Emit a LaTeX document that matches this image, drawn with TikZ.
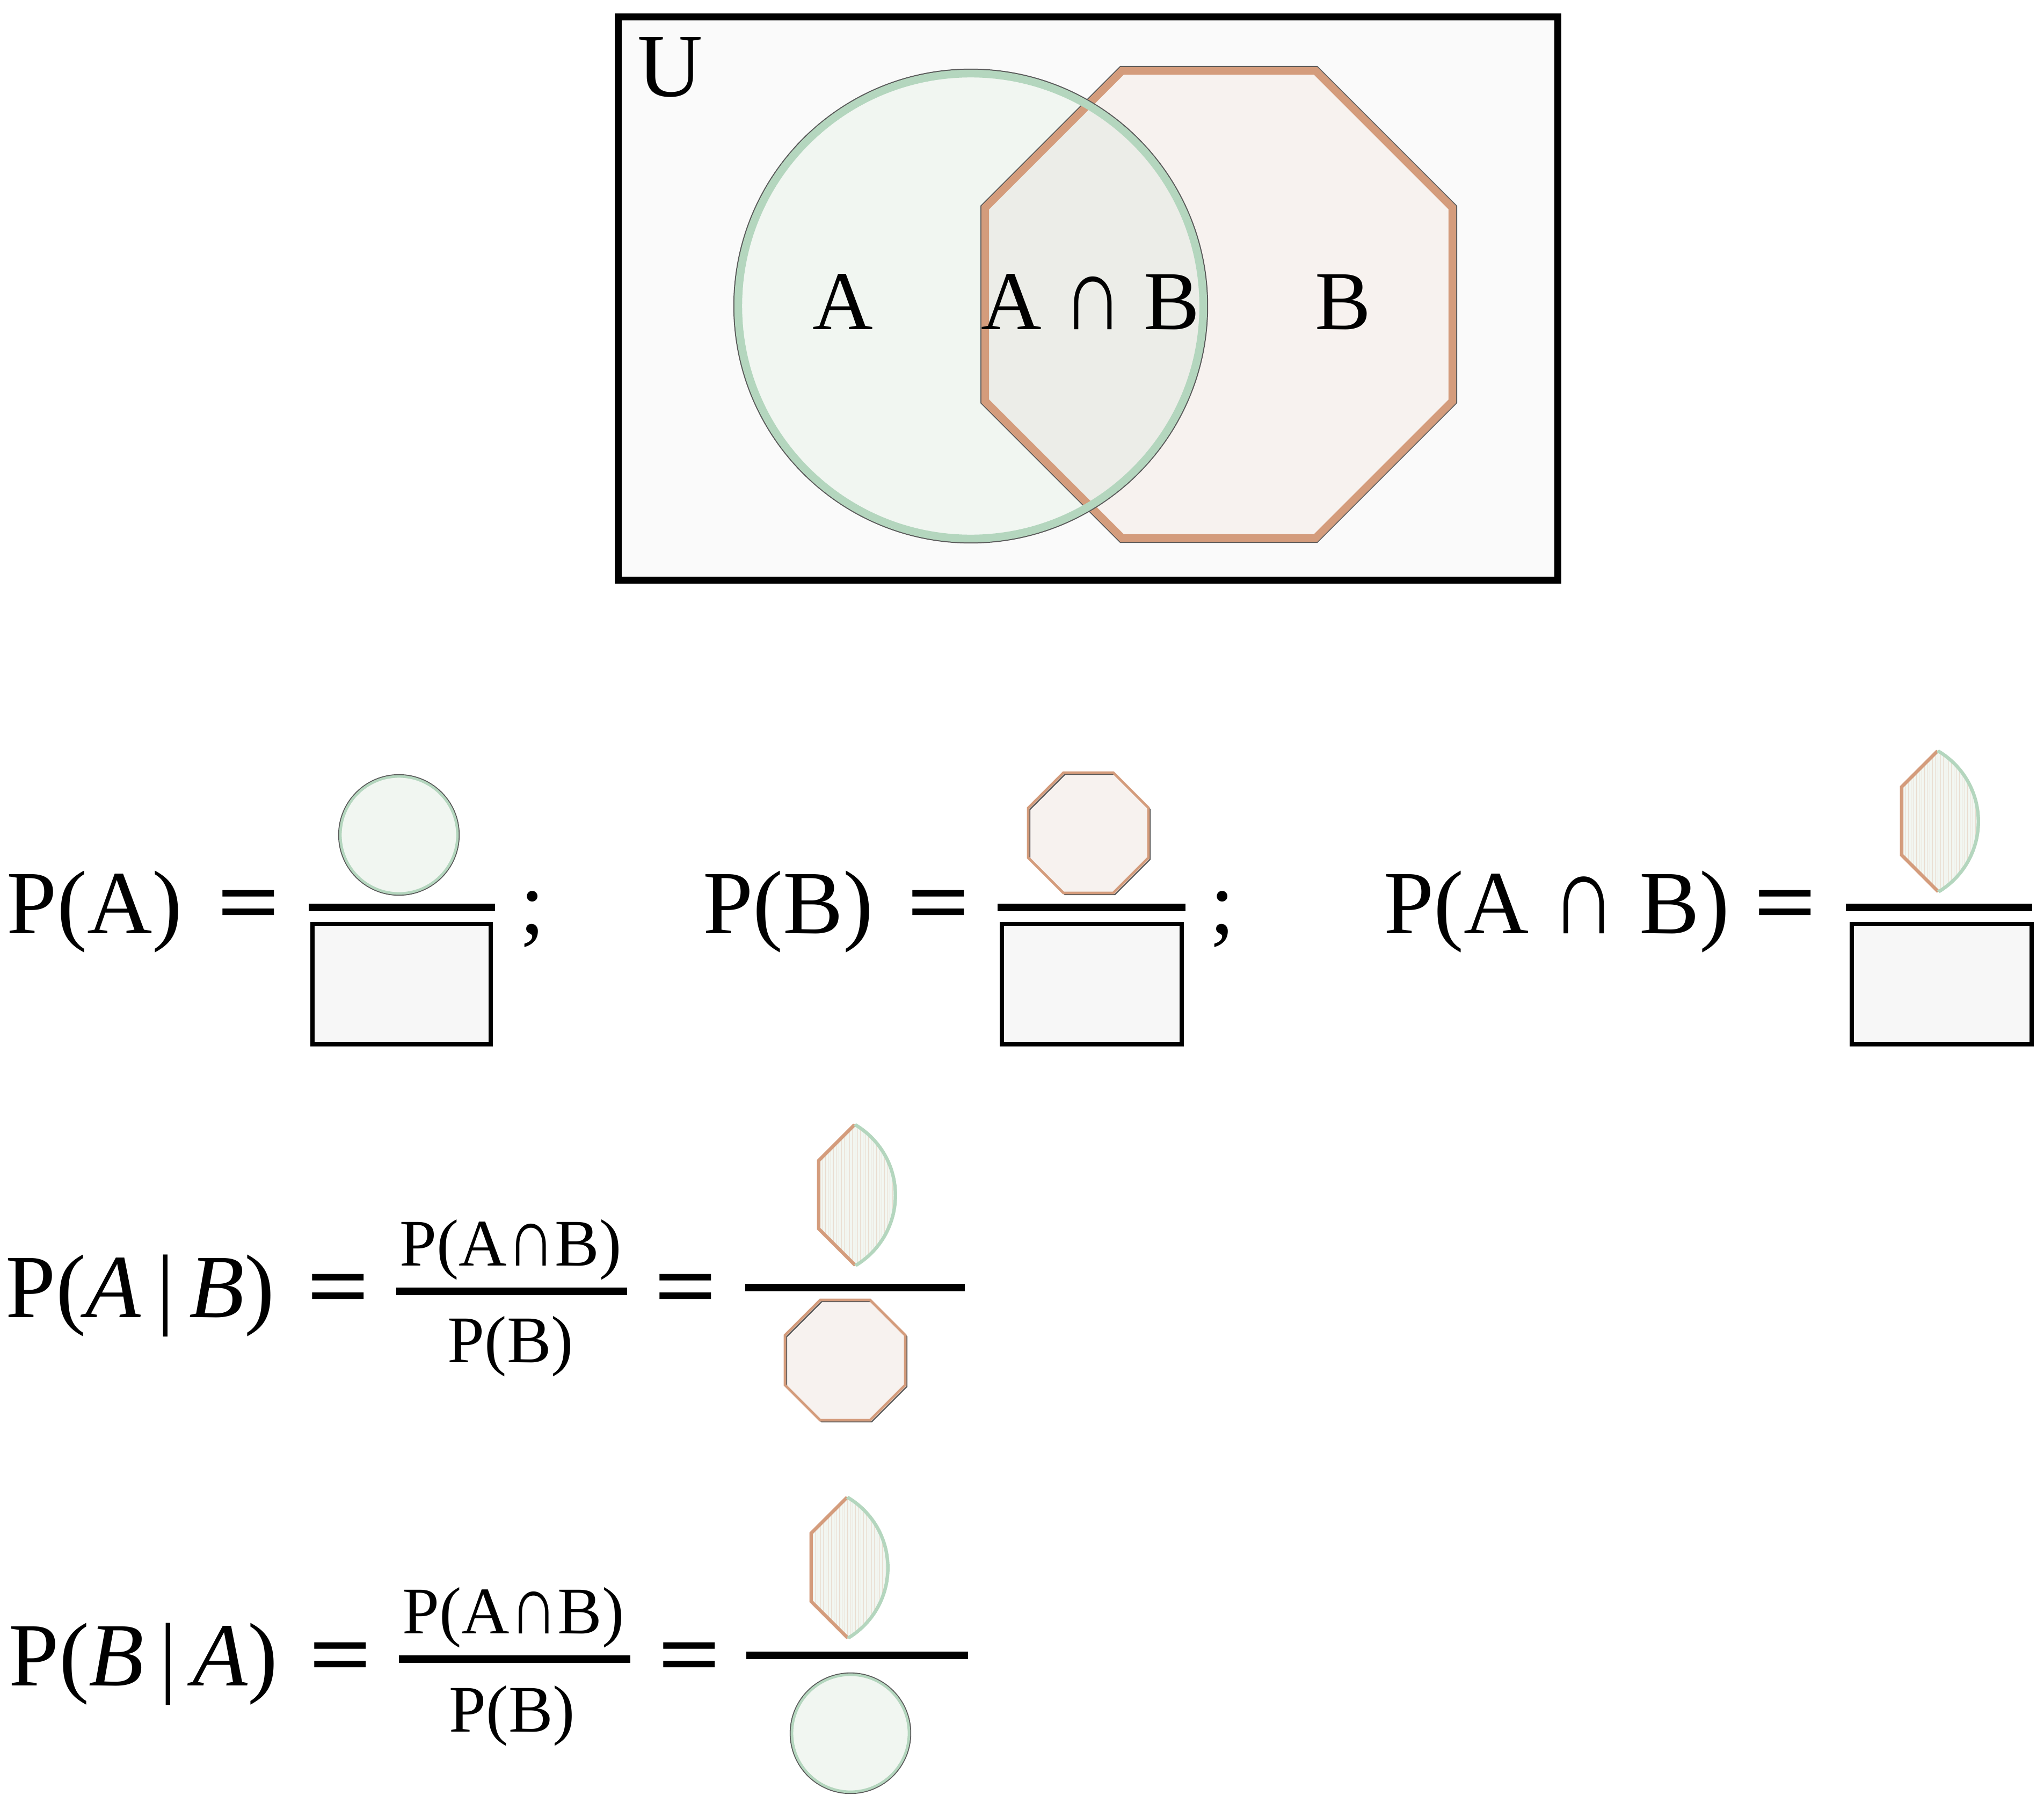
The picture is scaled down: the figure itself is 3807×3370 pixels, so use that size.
\documentclass[tikz,border=0pt]{standalone}
\usepackage{fontspec}
\usepackage{graphicx}
\setmainfont{Liberation Serif}
\definecolor{ufill}{HTML}{FAFAFA}
\definecolor{circfill}{HTML}{F1F6F1}
\definecolor{octfill}{HTML}{F7F2EF}
\definecolor{interfill}{HTML}{ECEDE8}
\definecolor{greenc}{HTML}{B4D6BE}
\definecolor{tanc}{HTML}{D49C7C}
\definecolor{darkedge}{HTML}{5A5A5A}
\definecolor{boxfill}{HTML}{F7F7F7}
\definecolor{lensfillc}{HTML}{F2F6F1}
\definecolor{lensgridc}{HTML}{E9DCCF}
\newcommand\capsym{\scalebox{1}[1.25]{∩}}
\newcommand\eqsym{\scalebox{1.2}[1]{=}}
\newcommand\octpath[3]{({#1-0.41421*#3},{#2-#3}) -- ({#1+0.41421*#3},{#2-#3}) -- ({#1+#3},{#2-0.41421*#3}) -- ({#1+#3},{#2+0.41421*#3}) -- ({#1+0.41421*#3},{#2+#3}) -- ({#1-0.41421*#3},{#2+#3}) -- ({#1-#3},{#2+0.41421*#3}) -- ({#1-#3},{#2-0.41421*#3}) -- cycle}
\newcommand\mylens[2]{%
\begin{scope}[shift={(#1,#2)}, scale=0.352]
  \begin{scope}
    \clip (-218,0) circle [radius=433];
    \clip \octpath{244}{-3}{435};
    \fill[lensfillc] (-300,-450) rectangle (300,450);
    \draw[lensgridc, line width=0.25pt] (-300,-450) grid[step=14.2] (300,450);
  \end{scope}
  \begin{scope}
    \clip (-218,0) circle [radius=433];
    \draw[tanc, line width=1.6pt] \octpath{244}{-3}{435};
  \end{scope}
  \begin{scope}
    \clip \octpath{244}{-3}{435};
    \draw[greenc, line width=1.6pt] (-218,0) circle [radius=433];
  \end{scope}
\end{scope}}
\newcommand\smallcircle[3]{%
  \fill[circfill] (#1,#2) circle [radius=#3];
  \draw[darkedge, line width=0.6pt] (#1,#2) circle [radius=#3];
  \draw[greenc, line width=1.2pt] (#1,#2) circle [radius={#3-3}];}
\newcommand\smalloct[3]{%
  \fill[octfill] \octpath{#1}{#2}{#3};
  \draw[darkedge, line width=0.6pt] \octpath{#1}{#2}{#3};
  \draw[tanc, line width=1.2pt] \octpath{#1}{#2}{#3-3};}
\begin{document}
\begin{tikzpicture}[x=0.25pt,y=-0.25pt,
  big/.style={anchor=base, inner sep=0pt, font=\fontsize{42}{50}\selectfont},
  eqsign/.style={anchor=base, inner sep=0pt, font=\fontsize{43}{50}\selectfont\bfseries},
  smalltxt/.style={anchor=base, inner sep=0pt, font=\fontsize{31}{37}\selectfont},
  vennlab/.style={anchor=base, inner sep=0pt, font=\fontsize{39}{47}\selectfont},
  fracbar/.style={line width=3.5pt},
  denombox/.style={draw=black, fill=boxfill, line width=2pt}]
\useasboundingbox (0,0) rectangle (3807,3370);
% ---------- Venn diagram ----------
\fill[ufill] (1151,32) rectangle (2901,1080);
\fill[octfill] \octpath{2270}{567}{435};
\fill[circfill] (1808,570) circle [radius=433];
\begin{scope}
  \clip \octpath{2270}{567}{435};
  \fill[interfill] (1808,570) circle [radius=433];
\end{scope}
\draw[darkedge, line width=0.5pt] \octpath{2270}{567}{443};
\draw[tanc, line width=3.6pt] \octpath{2270}{567}{435};
\draw[darkedge, line width=0.6pt] (1808,570) circle [radius=441];
\draw[greenc, line width=3.6pt] (1808,570) circle [radius=433];
\draw[black, line width=3.25pt] (1151,32) rectangle (2901,1080);
\node[anchor=base, inner sep=0pt, font=\fontsize{42}{50}\selectfont] (U) at (1248,180) {U};
\node[vennlab] (labA) at (1570,613) {A};
\node[vennlab] (labAB) at (2031,613) {A \capsym\ B};
\node[vennlab] (labB) at (2501,613) {B};
% ---------- Row 1 ----------
\node[big] (pA) at (176,1738) {P(A)};
\node[eqsign] (eq1) at (463,1738) {\eqsym};
\smallcircle{743}{1555}{112}
\draw[fracbar] (575,1690) -- (922,1690);
\draw[denombox] (582,1721) rectangle (914,1945);
\node[big] (sc1) at (992,1738) {;};
\node[big] (pB) at (1468,1738) {P(B)};
\node[eqsign] (eq2) at (1748,1738) {\eqsym};
\smalloct{2030}{1554}{112}
\draw[fracbar] (1858,1690) -- (2208,1690);
\draw[denombox] (1866,1721) rectangle (2201,1945);
\node[big] (sc2) at (2277,1738) {;};
\node[big] (pAB) at (2899,1738) {P(A \capsym\ B)};
\node[eqsign] (eq3) at (3325,1738) {\eqsym};
\mylens{3609}{1530}
\draw[fracbar] (3438,1690) -- (3785,1690);
\draw[denombox] (3449,1721) rectangle (3784,1945);
% ---------- Row 2 ----------
\node[big] (pAgB) at (261,2453) {P(\textit{A}\,|\,\textit{B})};
\node[eqsign] (eq4) at (630,2453) {\eqsym};
\node[smalltxt] (num1) at (951,2357) {P(A\capsym B)};
\draw[fracbar] (738,2405) -- (1168,2405);
\node[smalltxt] (den1) at (951,2537) {P(B)};
\node[eqsign] (eq5) at (1277,2453) {\eqsym};
\mylens{1592}{2226}
\draw[fracbar] (1388,2398) -- (1797,2398);
\smalloct{1577}{2536}{112}
% ---------- Row 3 ----------
\node[big] (pBgA) at (267,3139) {P(\textit{B}\,|\,\textit{A})};
\node[eqsign] (eq6) at (634,3139) {\eqsym};
\node[smalltxt] (num2) at (956,3042) {P(A\capsym B)};
\draw[fracbar] (743,3090) -- (1174,3090);
\node[smalltxt] (den2) at (954,3225) {P(B)};
\node[eqsign] (eq7) at (1284,3139) {\eqsym};
\mylens{1578}{2920}
\draw[fracbar] (1390,3083) -- (1803,3083);
\smallcircle{1584}{3228}{112}
\end{tikzpicture}
\end{document}
